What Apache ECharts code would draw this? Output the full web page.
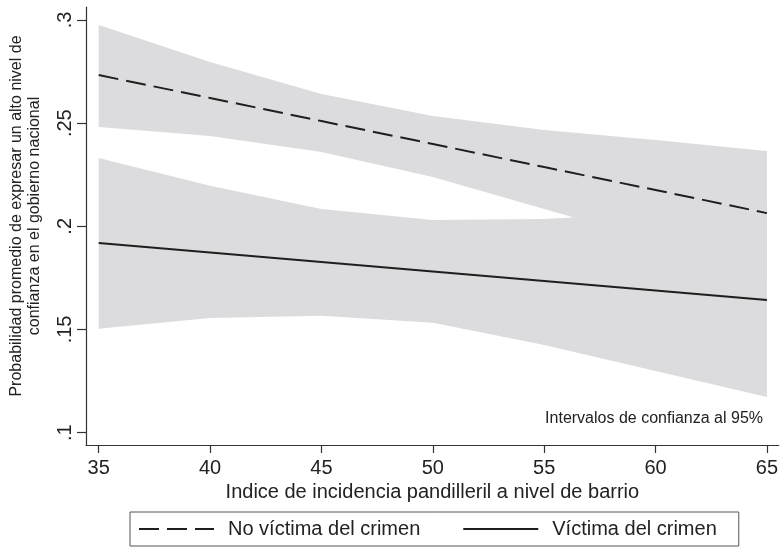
<!DOCTYPE html>
<html>
<head>
<meta charset="utf-8">
<script src="https://cdn.jsdelivr.net/npm/echarts@6/dist/echarts.min.js"></script>
<style>
  html, body { margin: 0; padding: 0; background: #ffffff; }
  #chart { width: 781px; height: 550px; }
</style>
</head>
<body>
<div id="chart"></div>
<script>
// ---- Data ----
const xValues = [35, 40, 45, 50, 55, 60, 65];

// "No víctima del crimen" (dashed line) and its 95% CI
const noVictimMean  = [0.2733, 0.2622, 0.2510, 0.2399, 0.2287, 0.2176, 0.2064];
const noVictimLower = [0.2481, 0.2438, 0.2360, 0.2239, 0.2084, 0.1930, 0.1760];
const noVictimUpper = [0.2976, 0.2796, 0.2641, 0.2535, 0.2467, 0.2418, 0.2365];

// "Víctima del crimen" (solid line) and its 95% CI
const victimMean  = [0.1919, 0.1873, 0.1827, 0.1781, 0.1735, 0.1689, 0.1643];
const victimLower = [0.1503, 0.1556, 0.1566, 0.1532, 0.1425, 0.1299, 0.1173];
const victimUpper = [0.2331, 0.2196, 0.2084, 0.2031, 0.2036, 0.2065, 0.2108];

const xTicks = [35, 40, 45, 50, 55, 60, 65];
const yTicks = [0.1, 0.15, 0.2, 0.25, 0.3];

const seriesNames = ['No víctima del crimen', 'Víctima del crimen'];
const xTitle = 'Indice de incidencia pandilleril a nivel de barrio';
const yTitle = 'Probabilidad promedio de expresar un alto nivel de\nconfianza en el gobierno nacional';
const noteText = 'Intervalos de confianza al 95%';

// ---- Helpers ----
const pairs = (ys) => xValues.map((x, i) => [x, ys[i]]);

const FONT = 'Liberation Sans, Arial, Helvetica, sans-serif';
const BAND = '#dcdcde';
const INK = '#1e1e1e';

// CI band drawn as one polygon through the axes' own scales (api.coord)
function bandSeries(lower, upper) {
  return {
    type: 'custom',
    silent: true,
    z: 1,
    data: xValues.map((x, i) => [x, lower[i], upper[i]]),
    encode: { x: 0, y: [1, 2] },
    renderItem: function (params, api) {
      if (params.dataIndex !== 0) return null;
      const pts = [];
      for (let i = 0; i < xValues.length; i++) pts.push(api.coord([xValues[i], upper[i]]));
      for (let i = xValues.length - 1; i >= 0; i--) pts.push(api.coord([xValues[i], lower[i]]));
      return { type: 'polygon', shape: { points: pts }, style: { fill: BAND, stroke: null } };
    }
  };
}

const chart = echarts.init(document.getElementById('chart'), null, { renderer: 'canvas' });

chart.setOption({
  animation: false,
  backgroundColor: '#ffffff',
  grid: { left: 83, right: 0, top: 7, bottom: 105, containLabel: false },
  xAxis: {
    type: 'value',
    min: 34.43, max: 65.53,
    name: xTitle,
    nameLocation: 'middle',
    nameGap: 34,
    nameTextStyle: { fontFamily: FONT, fontSize: 20, color: '#222' },
    axisLine: { show: true, lineStyle: { color: '#333', width: 1.2 } },
    axisTick: { show: true, length: 8, lineStyle: { color: '#333', width: 1.2 }, customValues: xTicks },
    axisLabel: { fontFamily: FONT, fontSize: 20, color: '#222', margin: 13, customValues: xTicks },
    splitLine: { show: false }
  },
  yAxis: {
    type: 'value',
    min: 0.094, max: 0.3063,
    name: yTitle,
    nameLocation: 'middle',
    nameGap: 42,
    nameRotate: 90,
    nameTextStyle: { fontFamily: FONT, fontSize: 16, color: '#222', lineHeight: 18, padding: [0, 0, 0, 20] },
    axisLine: { show: true, lineStyle: { color: '#333', width: 1.2 } },
    axisTick: { show: true, length: 9, lineStyle: { color: '#333', width: 1.2 }, customValues: yTicks },
    axisLabel: {
      fontFamily: FONT, fontSize: 20, color: '#222', rotate: 90, margin: 11,
      customValues: yTicks,
      formatter: (v) => String(Math.round(v * 100) / 100).replace(/^0/, '')
    },
    splitLine: { show: false }
  },
  legend: {
    data: seriesNames,
    left: 130, top: 512,
    orient: 'horizontal',
    itemWidth: 75, itemHeight: 14, itemGap: 42,
    padding: [7, 22, 7, 8],
    borderColor: '#555', borderWidth: 1,
    itemStyle: { opacity: 0 },
    textStyle: { fontFamily: FONT, fontSize: 20, color: '#222', padding: [0, 0, 0, 9] },
    selectedMode: false
  },
  graphic: [
    {
      type: 'text', x: 763, y: 427,
      style: { text: noteText, fontFamily: FONT, fontSize: 16, fill: '#222', align: 'right', verticalAlign: 'bottom' }
    }
  ],
  series: [
    bandSeries(noVictimLower, noVictimUpper),
    bandSeries(victimLower, victimUpper),
    {
      name: seriesNames[0], type: 'line', data: pairs(noVictimMean),
      symbol: 'none', z: 5,
      lineStyle: { color: INK, width: 2, type: [20, 8] },
      itemStyle: { color: INK }
    },
    {
      name: seriesNames[1], type: 'line', data: pairs(victimMean),
      symbol: 'none', z: 5,
      lineStyle: { color: INK, width: 2, type: 'solid' },
      itemStyle: { color: INK }
    }
  ]
});
</script>
</body>
</html>
